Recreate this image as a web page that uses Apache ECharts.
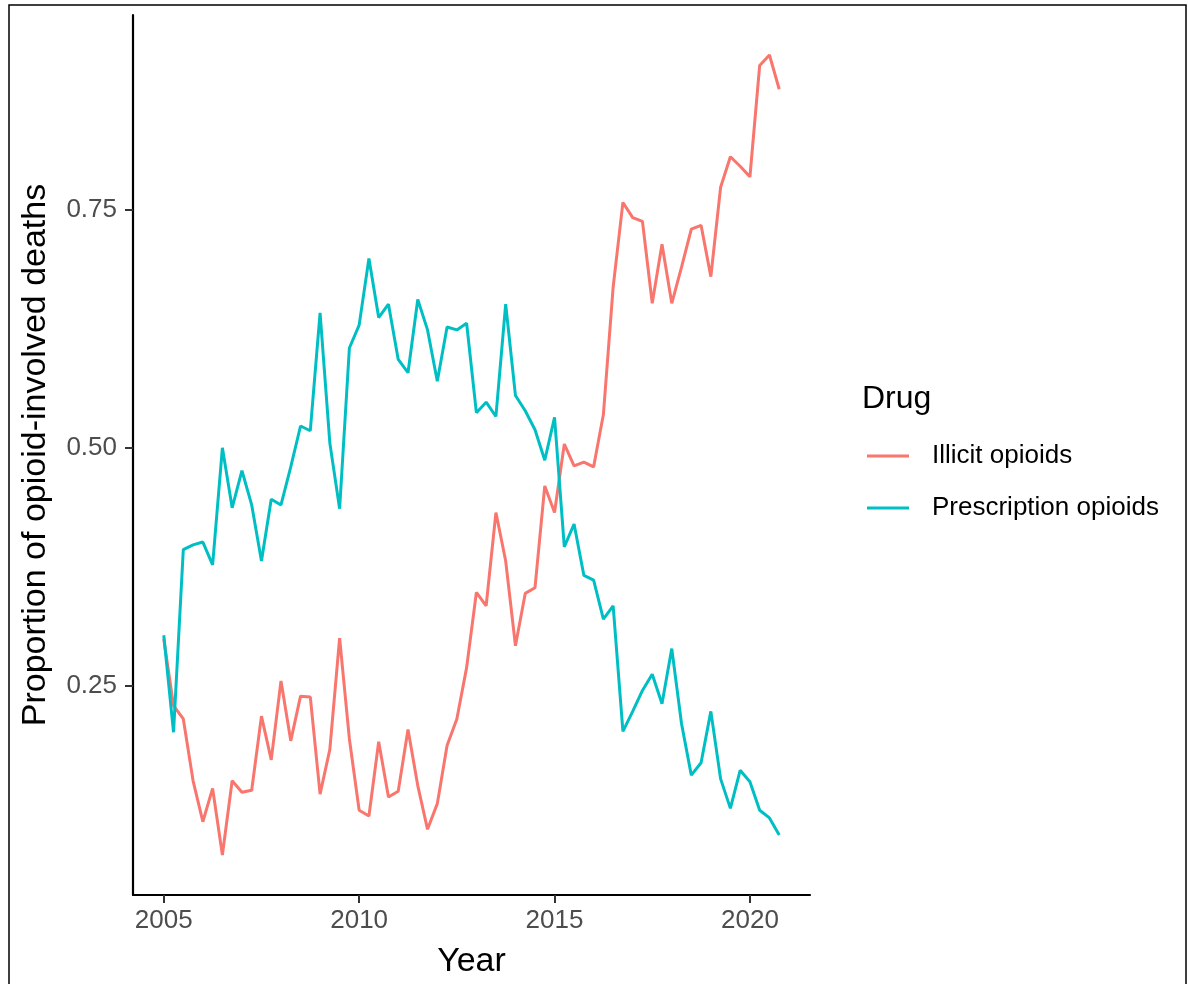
<!DOCTYPE html>
<html>
<head>
<meta charset="utf-8">
<script src="https://cdn.jsdelivr.net/npm/echarts@6/dist/echarts.min.js"></script>
<style>
html,body{margin:0;padding:0;background:#fff;}
#chart{width:1188px;height:984px;}
</style>
</head>
<body>
<div id="chart"></div>
<script>
// ---- data (quarterly, 2005 Q1 .. 2020 Q4) ----
const startYear = 2005;
const quartersPerYear = 4;
const seriesNames = ["Illicit opioids", "Prescription opioids"];
const illicit = [
  0.299, 0.229, 0.215, 0.150, 0.107, 0.142, 0.072, 0.150,
  0.138, 0.140, 0.218, 0.172, 0.255, 0.192, 0.239, 0.238,
  0.136, 0.183, 0.300, 0.194, 0.119, 0.113, 0.191, 0.133,
  0.139, 0.204, 0.145, 0.099, 0.126, 0.187, 0.215, 0.269,
  0.348, 0.334, 0.432, 0.381, 0.292, 0.347, 0.353, 0.460,
  0.432, 0.504, 0.481, 0.485, 0.480, 0.535, 0.669, 0.758,
  0.742, 0.738, 0.652, 0.714, 0.652, 0.690, 0.730, 0.734,
  0.680, 0.774, 0.806, 0.796, 0.785, 0.902, 0.913, 0.877
];
const prescription = [
  0.303, 0.201, 0.393, 0.398, 0.401, 0.377, 0.500, 0.437,
  0.476, 0.440, 0.381, 0.446, 0.440, 0.480, 0.523, 0.518,
  0.642, 0.505, 0.436, 0.605, 0.629, 0.699, 0.637, 0.651,
  0.593, 0.579, 0.656, 0.624, 0.570, 0.627, 0.624, 0.631,
  0.537, 0.548, 0.533, 0.651, 0.555, 0.539, 0.519, 0.487,
  0.532, 0.396, 0.420, 0.366, 0.361, 0.320, 0.334, 0.202,
  0.223, 0.245, 0.262, 0.231, 0.289, 0.210, 0.156, 0.169,
  0.223, 0.152, 0.121, 0.161, 0.149, 0.119, 0.111, 0.093
];
const xTicks = [2005, 2010, 2015, 2020];
const yTicks = [0.25, 0.50, 0.75];
const xTitle = "Year";
const yTitle = "Proportion of opioid-involved deaths";
const legendTitle = "Drug";

// ---- build ----
const time = illicit.map((_, i) => startYear + i / quartersPerYear);
const pairs = arr => arr.map((v, i) => [time[i], v]);
const expand = e => { const r = e.max - e.min; return { min: e.min - 0.05 * r, max: e.max + 0.05 * r }; };

const FONT = '"Liberation Sans", Arial, Helvetica, sans-serif';
const colors = ['#F8766D', '#00BFC4'];

const chart = echarts.init(document.getElementById('chart'), null, {renderer: 'canvas'});
chart.setOption({
  animation: false,
  backgroundColor: '#ffffff',
  color: colors,
  textStyle: {fontFamily: FONT},
  grid: {left: 133, top: 15, right: 378, bottom: 89, containLabel: false},
  xAxis: {
    type: 'value',
    min: e => expand(e).min,
    max: e => expand(e).max,
    name: xTitle,
    nameLocation: 'middle',
    nameGap: 50,
    nameTextStyle: {fontFamily: FONT, fontSize: 34, color: '#000'},
    axisLine: {show: true, onZero: false, lineStyle: {color: '#000', width: 2.2}},
    axisTick: {show: true, customValues: xTicks, length: 8, lineStyle: {color: '#333', width: 2}},
    axisLabel: {customValues: xTicks, fontSize: 26, color: '#4D4D4D', margin: 13, fontFamily: FONT,
                formatter: v => String(v)},
    splitLine: {show: false}
  },
  yAxis: {
    type: 'value',
    min: e => expand(e).min,
    max: e => expand(e).max,
    name: yTitle,
    nameLocation: 'middle',
    nameRotate: 90,
    nameGap: 80,
    nameTextStyle: {fontFamily: FONT, fontSize: 34, color: '#000'},
    axisLine: {show: true, onZero: false, lineStyle: {color: '#000', width: 2.2}},
    axisTick: {show: true, customValues: yTicks, length: 8, lineStyle: {color: '#333', width: 2}},
    axisLabel: {customValues: yTicks, fontSize: 26, color: '#4D4D4D', margin: 16, fontFamily: FONT,
                formatter: v => v.toFixed(2)},
    splitLine: {show: false}
  },
  legend: {
    orient: 'vertical',
    left: 862,
    top: 438,
    itemWidth: 42,
    itemHeight: 3,
    itemGap: 26,
    icon: 'rect',
    textStyle: {fontFamily: FONT, fontSize: 26, color: '#000', padding: [0, 0, 0, 18]},
    data: seriesNames
  },
  graphic: [
    {type: 'text', left: 862, top: 383, style: {text: legendTitle, font: '32px ' + FONT, fill: '#000'}},
    {type: 'rect', shape: {x: 9, y: 5, width: 1177, height: 990}, style: {fill: 'none', stroke: '#000', lineWidth: 1.5}, silent: true}
  ],
  series: [
    {name: seriesNames[0], type: 'line', data: pairs(illicit), showSymbol: false, symbol: 'none',
     lineStyle: {width: 3, color: colors[0]}, itemStyle: {color: colors[0]}},
    {name: seriesNames[1], type: 'line', data: pairs(prescription), showSymbol: false, symbol: 'none',
     lineStyle: {width: 3, color: colors[1]}, itemStyle: {color: colors[1]}}
  ]
});
</script>
</body>
</html>
